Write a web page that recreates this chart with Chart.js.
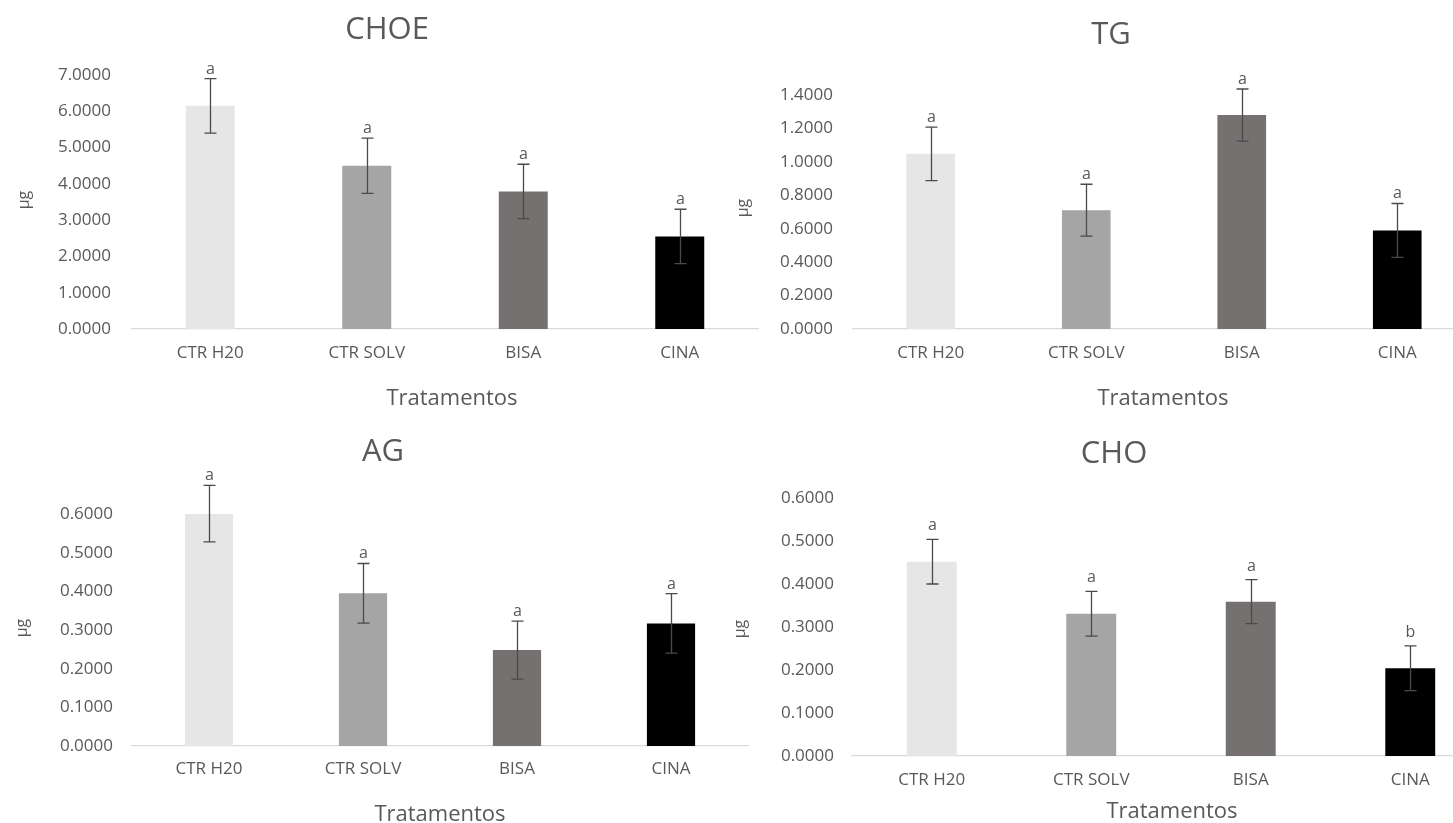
<!DOCTYPE html>
<html>
<head>
<meta charset="utf-8">
<script src="https://cdn.jsdelivr.net/npm/chart.js@4.4.1/dist/chart.umd.min.js"></script>
<style>
html,body{margin:0;padding:0;width:1453px;height:823px;overflow:hidden;background:#ffffff;}
canvas{position:absolute;left:0;top:0;}
</style>
</head>
<body>
<canvas id="c1"></canvas>
<canvas id="c2"></canvas>
<canvas id="c3"></canvas>
<canvas id="c4"></canvas>
<script>
// ---- data ----
const categories = ['CTR H20', 'CTR SOLV', 'BISA', 'CINA'];

const choeMeans   = [6.15, 4.50, 3.79, 2.55];
const choeErrors  = [0.75, 0.76, 0.75, 0.75];
const choeLetters = ['a', 'a', 'a', 'a'];
const choeTicks   = [0, 1, 2, 3, 4, 5, 6, 7];

const tgMeans   = [1.048, 0.711, 1.280, 0.590];
const tgErrors  = [0.160, 0.155, 0.156, 0.161];
const tgLetters = ['a', 'a', 'a', 'a'];
const tgTicks   = [0, 0.2, 0.4, 0.6, 0.8, 1.0, 1.2, 1.4];

const agMeans   = [0.601, 0.395, 0.248, 0.317];
const agErrors  = [0.073, 0.077, 0.075, 0.077];
const agLetters = ['a', 'a', 'a', 'a'];
const agTicks   = [0, 0.1, 0.2, 0.3, 0.4, 0.5, 0.6];

const choMeans   = [0.452, 0.331, 0.359, 0.204];
const choErrors  = [0.052, 0.052, 0.051, 0.052];
const choLetters = ['a', 'a', 'a', 'b'];
const choTicks   = [0, 0.1, 0.2, 0.3, 0.4, 0.5, 0.6];

const barColors = ['#E7E6E6', '#A5A5A5', '#767171', '#000000'];
const textColor = '#595959';
const FONT = "'Open Sans', 'DejaVu Sans', sans-serif";

// ---- layout (page pixel positions) ----
const panels = [
  {id:'c1', title:'CHOE', means:choeMeans, errs:choeErrors, letters:choeLetters, ticks:choeTicks,
   W:1453, area:{l:132, r:758, t:75, b:329}, tickPad:21, xPad:14,
   titleXY:[387,30], xTitleXY:[452,399], yTitleXY:[24,200], letterGap:5},
  {id:'c2', title:'TG', means:tgMeans, errs:tgErrors, letters:tgLetters, ticks:tgTicks,
   W:1520, area:{l:853, r:1475, t:95, b:329}, tickPad:20, xPad:14,
   titleXY:[1111,35], xTitleXY:[1163,399], yTitleXY:[743,208], letterGap:5},
  {id:'c3', title:'AG', means:agMeans, errs:agErrors, letters:agLetters, ticks:agTicks,
   W:1453, area:{l:132, r:748, t:514, b:746}, tickPad:19, xPad:13,
   titleXY:[383,452], xTitleXY:[440,815], yTitleXY:[22,628], letterGap:5},
  {id:'c4', title:'CHO', means:choMeans, errs:choErrors, letters:choLetters, ticks:choTicks,
   W:1520, area:{l:852, r:1490, t:498, b:756}, tickPad:18, xPad:14,
   titleXY:[1114,454], xTitleXY:[1172,812], yTitleXY:[740,629], letterGap:9}
];

const H = 823;
const X_SCALE_H = 50;

const overlayPlugin = {
  id: 'overlay',
  afterDraw(chart, args, opts) {
    const p = opts.panel;
    const ctx = chart.ctx;
    const meta = chart.getDatasetMeta(0);
    const ys = chart.scales.y;
    ctx.save();
    // error bars + letters
    ctx.strokeStyle = '#4a4a4a';
    ctx.lineWidth = 1.3;
    meta.data.forEach((bar, i) => {
      const v = p.means[i], e = p.errs[i];
      const x = Math.round(bar.x) + 0.5;
      const yT = ys.getPixelForValue(v + e);
      const yB = ys.getPixelForValue(v - e);
      ctx.beginPath();
      ctx.moveTo(x, yT); ctx.lineTo(x, yB);
      ctx.moveTo(x - 6, yT); ctx.lineTo(x + 6, yT);
      ctx.moveTo(x - 6, yB); ctx.lineTo(x + 6, yB);
      ctx.stroke();
      ctx.fillStyle = textColor;
      ctx.font = '16px ' + FONT;
      ctx.textAlign = 'center';
      ctx.textBaseline = 'alphabetic';
      ctx.fillText(p.letters[i], x, yT - p.letterGap);
    });
    // titles
    ctx.fillStyle = textColor;
    ctx.textAlign = 'center';
    ctx.textBaseline = 'middle';
    ctx.font = '31px ' + FONT;
    ctx.fillText(p.title, p.titleXY[0], p.titleXY[1]);
    ctx.font = '22px ' + FONT;
    ctx.fillText('Tratamentos', p.xTitleXY[0], p.xTitleXY[1]);
    ctx.translate(p.yTitleXY[0], p.yTitleXY[1]);
    ctx.rotate(-Math.PI / 2);
    ctx.font = '16px ' + FONT;
    ctx.fillText('µg', 0, 0);
    ctx.restore();
  }
};

panels.forEach(p => {
  const cv = document.getElementById(p.id);
  cv.width = p.W; cv.height = H;
  cv.style.width = p.W + 'px'; cv.style.height = H + 'px';
  new Chart(cv, {
    type: 'bar',
    data: {
      labels: categories,
      datasets: [{
        data: p.means,
        backgroundColor: barColors,
        borderWidth: 0,
        barPercentage: 0.313,
        categoryPercentage: 1.0
      }]
    },
    options: {
      responsive: false,
      animation: false,
      events: [],
      layout: {
        padding: {
          left: 0,
          top: p.area.t,
          right: p.W - p.area.r,
          bottom: H - p.area.b - X_SCALE_H
        }
      },
      plugins: {
        legend: {display: false},
        title: {display: false},
        tooltip: {enabled: false},
        overlay: {panel: p}
      },
      scales: {
        x: {
          type: 'category',
          offset: true,
          grid: {display: false, drawTicks: false, tickLength: 0},
          border: {display: true, color: '#D9D9D9', width: 1.2},
          ticks: {color: textColor, font: {family: FONT, size: 17}, padding: p.xPad, maxRotation: 0, autoSkip: false},
          afterFit: s => { s.height = X_SCALE_H; }
        },
        y: {
          type: 'linear',
          min: p.ticks[0],
          max: p.ticks[p.ticks.length - 1],
          grid: {display: false, drawTicks: false, tickLength: 0},
          border: {display: false},
          ticks: {color: textColor, font: {family: FONT, size: 17}, padding: p.tickPad,
                  callback: v => Number(v).toFixed(4)},
          afterBuildTicks: s => { s.ticks = p.ticks.map(v => ({value: v})); },
          afterFit: s => { s.width = p.area.l; }
        }
      }
    },
    plugins: [overlayPlugin]
  });
});
</script>
</body>
</html>
